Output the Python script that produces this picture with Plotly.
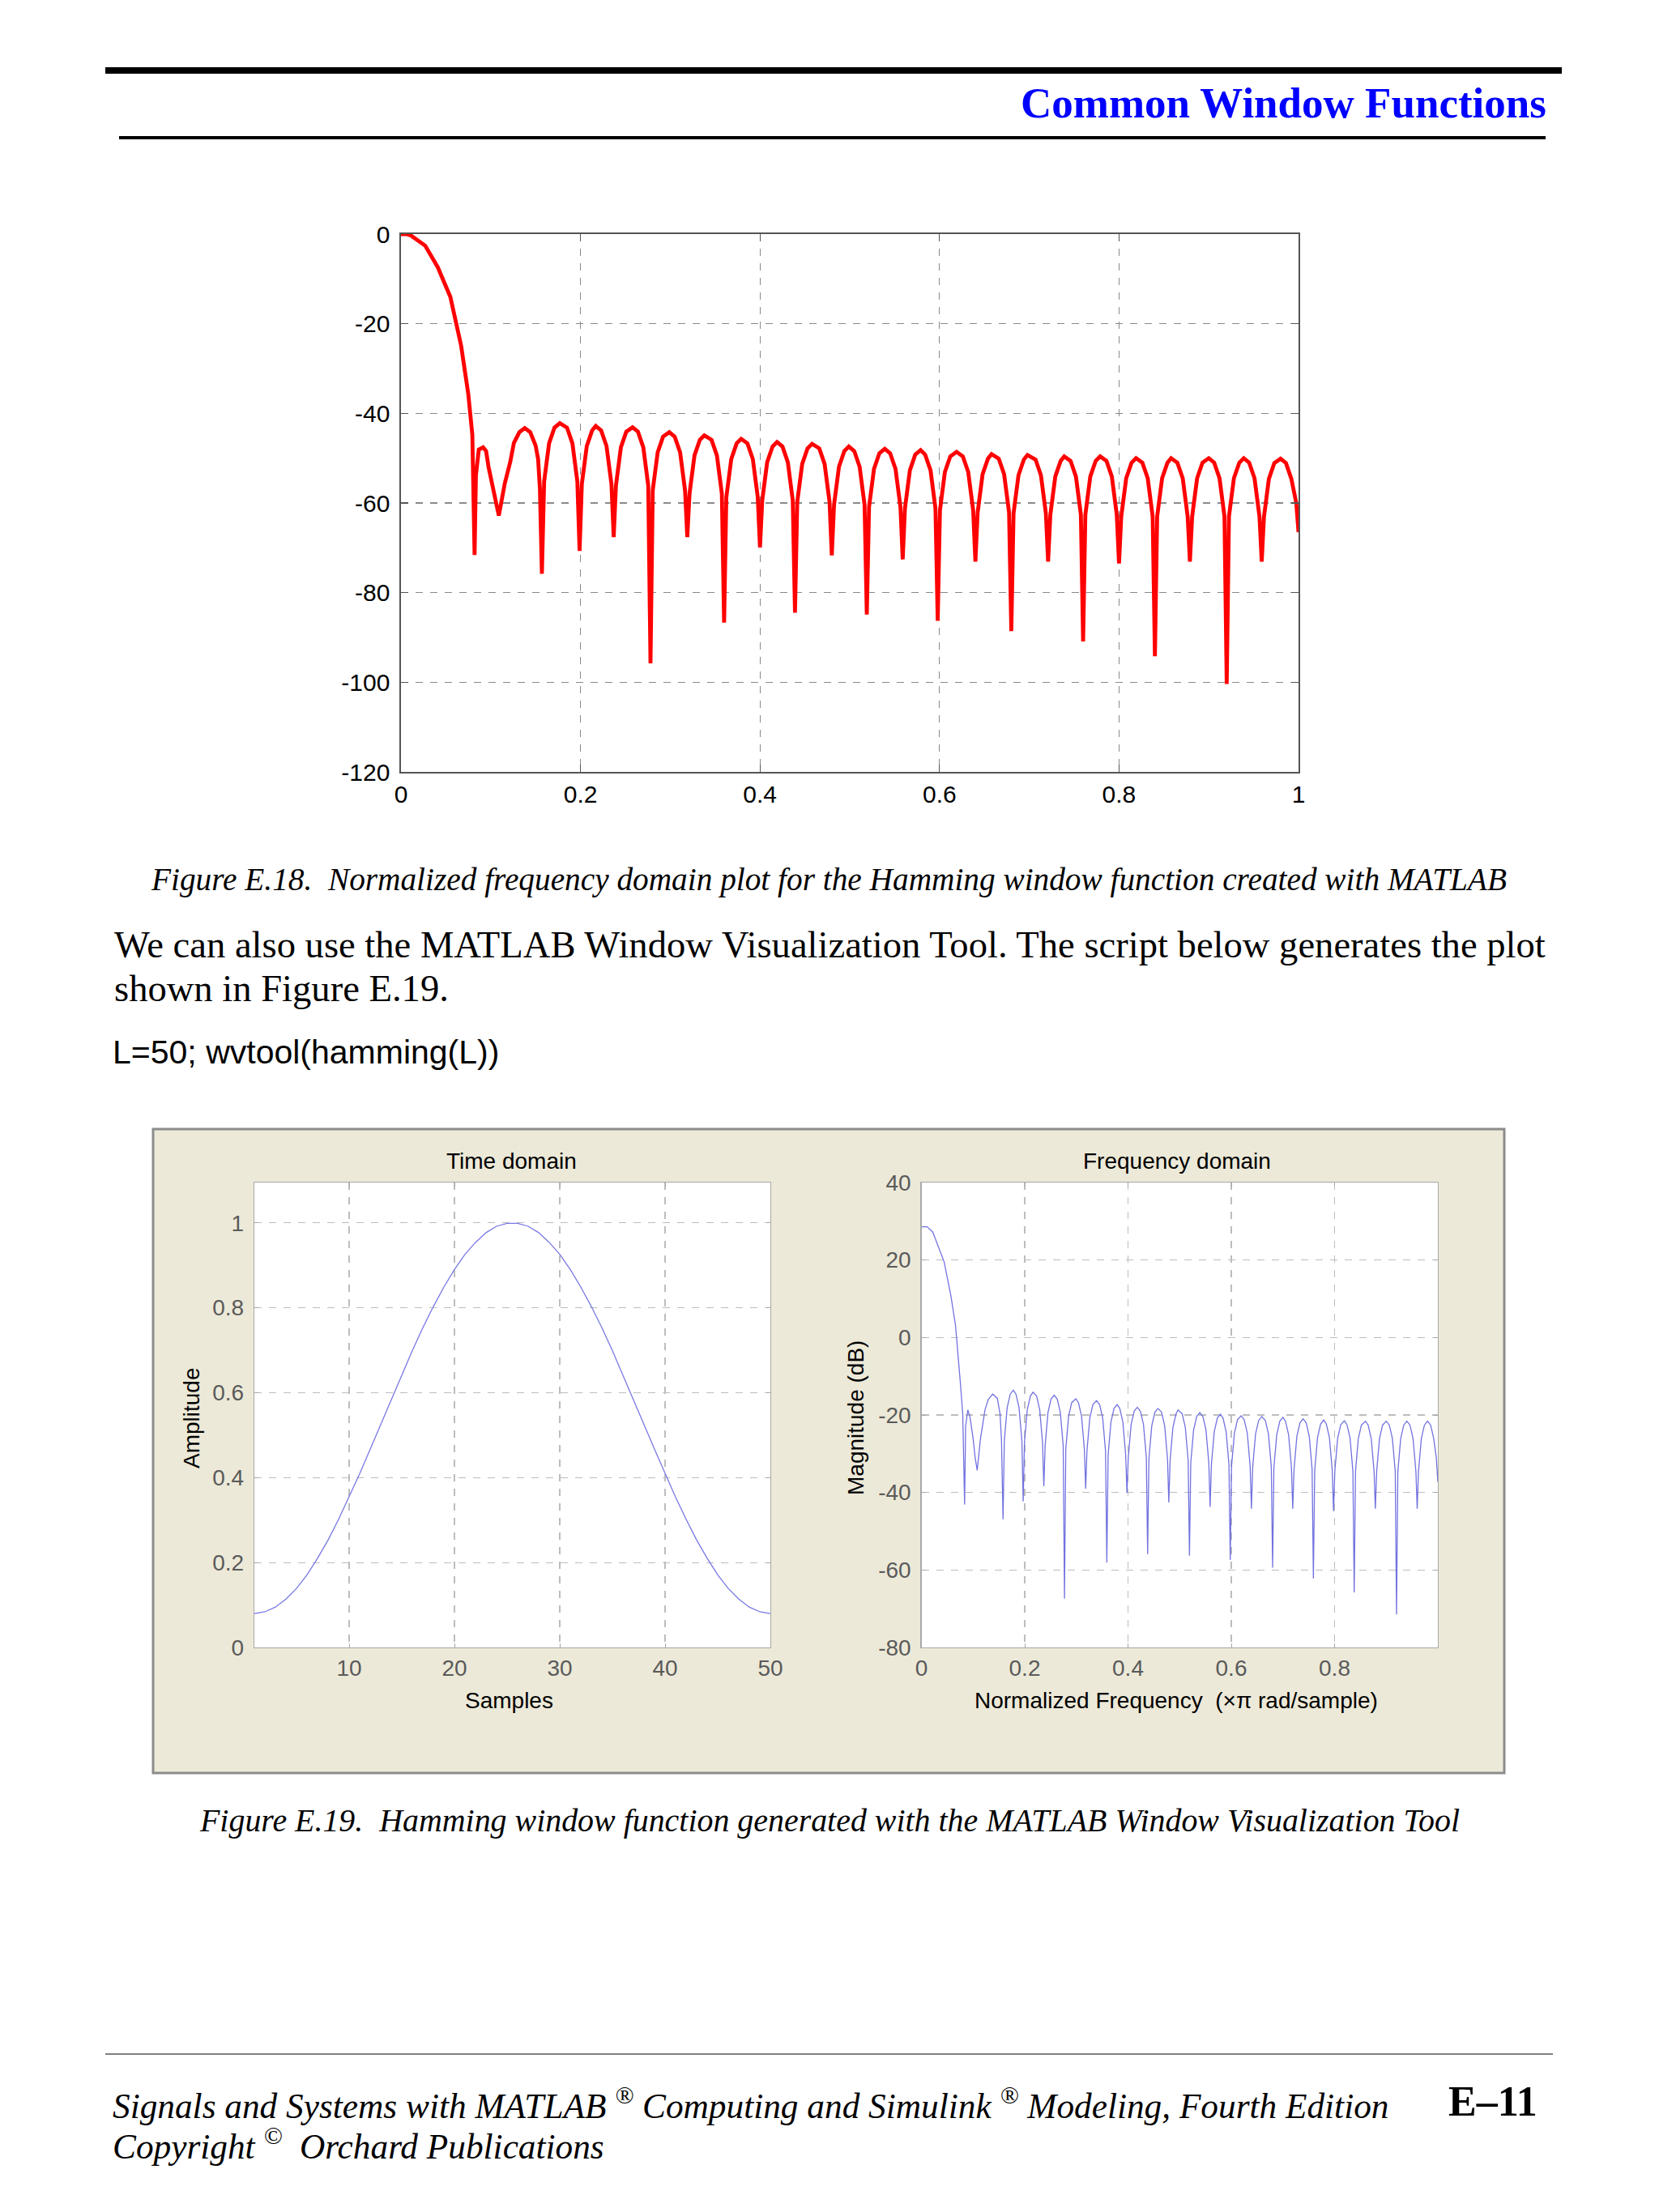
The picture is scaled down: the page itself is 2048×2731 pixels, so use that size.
import plotly.graph_objects as go

# ---------------- data ----------------
# Figure E.18 : normalized frequency response (dB), red curve
top_freq = [
    0.000, 0.006, 0.011, 0.027, 0.041, 0.055, 0.067, 0.075, 0.0795, 0.082,
    0.0835, 0.0867, 0.0915, 0.0948, 0.0976, 0.1036, 0.109,
    0.1157, 0.1218, 0.1258, 0.1319, 0.1379, 0.144, 0.150, 0.1528, 0.1548, 0.157,
    0.1595, 0.165, 0.171, 0.177, 0.185, 0.191, 0.1965, 0.199,
    0.2015, 0.207, 0.213, 0.217, 0.223, 0.229, 0.2345, 0.237,
    0.2395, 0.245, 0.251, 0.258, 0.264, 0.270, 0.2755, 0.278,
    0.2805, 0.286, 0.292, 0.299, 0.305, 0.311, 0.3165, 0.319,
    0.3215, 0.327, 0.333, 0.338, 0.346, 0.352, 0.3575, 0.360,
    0.3625, 0.368, 0.374, 0.379, 0.386, 0.392, 0.3975, 0.400,
    0.4025, 0.408, 0.414, 0.419, 0.425, 0.431, 0.4365, 0.439,
    0.4415, 0.447, 0.453, 0.458, 0.466, 0.472, 0.4775, 0.480,
    0.4825, 0.488, 0.494, 0.499, 0.505, 0.511, 0.5165, 0.519,
    0.5215, 0.527, 0.533, 0.539, 0.545, 0.551, 0.5565, 0.559,
    0.5615, 0.567, 0.573, 0.579, 0.584, 0.590, 0.5955, 0.598,
    0.6005, 0.606, 0.612, 0.619, 0.626, 0.632, 0.6375, 0.640,
    0.6425, 0.648, 0.654, 0.658, 0.666, 0.672, 0.6775, 0.680,
    0.6825, 0.688, 0.694, 0.698, 0.707, 0.713, 0.7185, 0.721,
    0.7235, 0.729, 0.735, 0.739, 0.746, 0.752, 0.7575, 0.760,
    0.7625, 0.768, 0.774, 0.779, 0.786, 0.792, 0.7975, 0.800,
    0.8025, 0.808, 0.814, 0.819, 0.826, 0.832, 0.8375, 0.840,
    0.8425, 0.848, 0.854, 0.858, 0.865, 0.871, 0.8765, 0.879,
    0.8815, 0.887, 0.893, 0.900, 0.906, 0.912, 0.9175, 0.920,
    0.9225, 0.928, 0.934, 0.939, 0.945, 0.951, 0.9565, 0.959,
    0.9615, 0.967, 0.973, 0.980, 0.986, 0.992, 0.9975, 1.000,
]
top_mag = [
    0.0, 0.0, -0.3, -2.6, -7.4, -14.0, -24.9, -35.7, -44.8, -71.6,
    -53.8, -48.1, -47.6, -48.4, -52.0, -58.0, -62.8,
    -55.6, -50.8, -46.6, -44.2, -43.3, -44.2, -47.2, -50.2, -56.8, -75.8,
    -55.2, -46.7, -43.2, -42.2, -43.2, -46.7, -55.2, -70.7,
    -55.8, -47.3, -43.8, -42.8, -43.8, -47.3, -55.8, -67.6,
    -56.1, -47.6, -44.1, -43.1, -44.1, -47.6, -56.1, -95.8,
    -57.2, -48.7, -45.2, -44.2, -45.2, -48.7, -57.2, -67.6,
    -57.9, -49.4, -45.9, -44.9, -45.9, -49.4, -57.9, -86.7,
    -58.7, -50.2, -46.7, -45.7, -46.7, -50.2, -58.7, -69.9,
    -59.4, -50.9, -47.4, -46.4, -47.4, -50.9, -59.4, -84.5,
    -59.8, -51.3, -47.8, -46.8, -47.8, -51.3, -59.8, -71.7,
    -60.4, -51.9, -48.4, -47.4, -48.4, -51.9, -60.4, -84.9,
    -60.9, -52.4, -48.9, -47.9, -48.9, -52.4, -60.9, -72.6,
    -61.2, -52.7, -49.2, -48.2, -49.2, -52.7, -61.2, -86.3,
    -61.6, -53.1, -49.6, -48.6, -49.6, -53.1, -61.6, -73.1,
    -62.1, -53.6, -50.1, -49.1, -50.1, -53.6, -62.1, -88.6,
    -62.3, -53.8, -50.3, -49.3, -50.3, -53.8, -62.3, -73.1,
    -62.6, -54.1, -50.6, -49.6, -50.6, -54.1, -62.6, -90.9,
    -62.6, -54.1, -50.6, -49.6, -50.6, -54.1, -62.6, -73.5,
    -63.0, -54.5, -51.0, -50.0, -51.0, -54.5, -63.0, -94.2,
    -63.0, -54.5, -51.0, -50.0, -51.0, -54.5, -63.0, -73.1,
    -63.0, -54.5, -51.0, -50.0, -51.0, -54.5, -63.0, -100.4,
    -63.0, -54.5, -51.0, -50.0, -51.0, -54.5, -63.0, -73.1,
    -63.1, -54.6, -51.1, -50.1, -51.1, -54.6, -60.0, -66.5,
]
top_xticks = [0, 0.2, 0.4, 0.6, 0.8, 1]
top_xticklabels = ["0", "0.2", "0.4", "0.6", "0.8", "1"]
top_yticks = [0, -20, -40, -60, -80, -100, -120]
top_yticklabels = ["0", "-20", "-40", "-60", "-80", "-100", "-120"]

# Figure E.19 left : Hamming window, time domain
time_samples = [1, 2, 3, 4, 5, 6, 7, 8, 9, 10, 11, 12, 13, 14, 15, 16, 17, 18, 19, 20,
                21, 22, 23, 24, 25, 26, 27, 28, 29, 30, 31, 32, 33, 34, 35, 36, 37, 38, 39, 40,
                41, 42, 43, 44, 45, 46, 47, 48, 49, 50]
time_amp = [0.080, 0.084, 0.095, 0.114, 0.139, 0.171, 0.210, 0.253, 0.302, 0.354,
            0.409, 0.467, 0.525, 0.584, 0.642, 0.699, 0.753, 0.803, 0.849, 0.890,
            0.926, 0.954, 0.977, 0.992, 0.999, 0.999, 0.992, 0.977, 0.954, 0.926,
            0.890, 0.849, 0.803, 0.753, 0.699, 0.642, 0.584, 0.525, 0.467, 0.409,
            0.354, 0.302, 0.253, 0.210, 0.171, 0.139, 0.114, 0.095, 0.084, 0.080]
time_xticks = [10, 20, 30, 40, 50]
time_yticks = [0, 0.2, 0.4, 0.6, 0.8, 1]
time_yticklabels = ["0", "0.2", "0.4", "0.6", "0.8", "1"]

# Figure E.19 right : frequency domain (dB)
wv_freq = [
    0.000, 0.011, 0.022, 0.035, 0.044, 0.057, 0.066, 0.075, 0.080, 0.0836,
    0.0855, 0.0898, 0.094, 0.100, 0.104, 0.108,
    0.114, 0.123, 0.1294, 0.138, 0.147, 0.1523, 0.155, 0.158,
    0.1605, 0.166, 0.172, 0.178, 0.183, 0.189, 0.1945, 0.197,
    0.1995, 0.205, 0.211, 0.216, 0.223, 0.229, 0.2345, 0.237,
    0.2395, 0.245, 0.251, 0.257, 0.263, 0.269, 0.2745, 0.277,
    0.2795, 0.285, 0.291, 0.299, 0.304, 0.310, 0.3155, 0.318,
    0.3205, 0.326, 0.332, 0.339, 0.345, 0.351, 0.3565, 0.359,
    0.3615, 0.367, 0.373, 0.379, 0.384, 0.390, 0.3955, 0.398,
    0.4005, 0.406, 0.412, 0.418, 0.424, 0.430, 0.4355, 0.438,
    0.4405, 0.446, 0.452, 0.458, 0.465, 0.471, 0.4765, 0.479,
    0.4815, 0.487, 0.493, 0.497, 0.505, 0.511, 0.5165, 0.519,
    0.5215, 0.527, 0.533, 0.539, 0.545, 0.551, 0.5565, 0.559,
    0.5615, 0.567, 0.573, 0.579, 0.584, 0.590, 0.5955, 0.598,
    0.6005, 0.606, 0.612, 0.619, 0.625, 0.631, 0.6365, 0.639,
    0.6415, 0.647, 0.653, 0.659, 0.666, 0.672, 0.6775, 0.680,
    0.6825, 0.688, 0.694, 0.700, 0.705, 0.711, 0.7165, 0.719,
    0.7215, 0.727, 0.733, 0.739, 0.745, 0.751, 0.7565, 0.759,
    0.7615, 0.767, 0.773, 0.779, 0.784, 0.790, 0.7955, 0.798,
    0.8005, 0.806, 0.812, 0.819, 0.824, 0.830, 0.8355, 0.838,
    0.8405, 0.846, 0.852, 0.860, 0.865, 0.871, 0.8765, 0.879,
    0.8815, 0.887, 0.893, 0.900, 0.906, 0.912, 0.9175, 0.920,
    0.9225, 0.928, 0.934, 0.940, 0.946, 0.952, 0.9575, 0.960,
    0.9625, 0.968, 0.974, 0.980, 0.986, 0.992, 0.997, 1.000,
]
wv_mag = [
    28.6, 28.6, 27.2, 22.8, 19.5, 10.8, 3.1, -11.1, -19.8, -43.1,
    -23.0, -18.7, -20.5, -26.0, -31.0, -34.3,
    -26.4, -18.7, -16.0, -14.6, -15.7, -19.8, -26.4, -46.9,
    -26.6, -18.1, -14.6, -13.6, -14.6, -18.1, -26.6, -42.3,
    -27.1, -18.6, -15.1, -14.1, -15.1, -18.6, -27.1, -38.4,
    -27.9, -19.4, -15.9, -14.9, -15.9, -19.4, -27.9, -67.4,
    -28.8, -20.3, -16.8, -15.8, -16.8, -20.3, -28.8, -39.0,
    -29.3, -20.8, -17.3, -16.3, -17.3, -20.8, -29.3, -58.1,
    -30.3, -21.8, -18.3, -17.3, -18.3, -21.8, -30.3, -40.1,
    -31.0, -22.5, -19.0, -18.0, -19.0, -22.5, -31.0, -55.9,
    -31.3, -22.8, -19.3, -18.3, -19.3, -22.8, -31.3, -42.6,
    -31.7, -23.2, -19.7, -18.7, -19.7, -23.2, -31.7, -56.3,
    -32.4, -23.9, -20.4, -19.4, -20.4, -23.9, -32.4, -43.7,
    -32.8, -24.3, -20.8, -19.8, -20.8, -24.3, -32.8, -57.4,
    -33.2, -24.7, -21.2, -20.2, -21.2, -24.7, -33.2, -44.2,
    -33.4, -24.9, -21.4, -20.4, -21.4, -24.9, -33.4, -59.4,
    -33.6, -25.1, -21.6, -20.6, -21.6, -25.1, -33.6, -44.2,
    -34.0, -25.5, -22.0, -21.0, -22.0, -25.5, -34.0, -62.2,
    -34.3, -25.8, -22.3, -21.3, -22.3, -25.8, -34.3, -44.8,
    -34.5, -26.0, -22.5, -21.5, -22.5, -26.0, -34.5, -65.8,
    -34.6, -26.1, -22.6, -21.6, -22.6, -26.1, -34.6, -44.2,
    -34.6, -26.1, -22.6, -21.6, -22.6, -26.1, -34.6, -71.5,
    -34.6, -26.1, -22.6, -21.6, -22.6, -26.1, -34.6, -44.2,
    -34.6, -26.1, -22.6, -21.6, -22.6, -26.1, -31.0, -37.3,
]
wv_xticks = [0, 0.2, 0.4, 0.6, 0.8]
wv_xticklabels = ["0", "0.2", "0.4", "0.6", "0.8"]
wv_yticks = [-80, -60, -40, -20, 0, 20, 40]
wv_yticklabels = ["-80", "-60", "-40", "-20", "0", "20", "40"]

assert len(top_freq) == len(top_mag)
assert len(wv_freq) == len(wv_mag)
assert len(time_samples) == len(time_amp)

# ---------------- page geometry ----------------
W, H = 2048, 2731
def fx(x):
    return x / W
def fy(y):
    return 1 - y / H

SERIF = "Liberation Serif, Times New Roman, serif"
SANS = "Liberation Sans, Arial, Helvetica, sans-serif"

fig = go.Figure()
fig.add_trace(go.Scatter(x=top_freq, y=top_mag, mode="lines",
                         line=dict(color="#ff0000", width=4.8),
                         xaxis="x", yaxis="y", showlegend=False, hoverinfo="skip"))
fig.add_trace(go.Scatter(x=time_samples, y=time_amp, mode="lines",
                         line=dict(color="#7878e4", width=1.3),
                         xaxis="x2", yaxis="y2", showlegend=False, hoverinfo="skip"))
fig.add_trace(go.Scatter(x=wv_freq, y=wv_mag, mode="lines",
                         line=dict(color="#7272e0", width=1.3),
                         xaxis="x3", yaxis="y3", showlegend=False, hoverinfo="skip"))

top_ax = dict(showgrid=True, griddash="dash", gridcolor="#8a8a8a", gridwidth=1.3,
              showline=True, mirror="ticks", linecolor="#555555", linewidth=1.6,
              ticks="inside", ticklen=9, tickcolor="#555555", tickwidth=1.3,
              zeroline=False, automargin=False,
              tickfont=dict(family=SANS, size=30, color="#000000"))
wv_ax = dict(showgrid=True, griddash="dash", gridcolor="#bdbdbd", gridwidth=1.2,
             showline=True, mirror="ticks", linecolor="#a8a8a8", linewidth=1.3,
             ticks="inside", ticklen=5, tickcolor="#a8a8a8",
             zeroline=False, automargin=False,
             tickfont=dict(family=SANS, size=28, color="#5a5a5a"))

fig.update_layout(
    width=W, height=H, autosize=False,
    margin=dict(l=0, r=0, t=0, b=0, pad=0, autoexpand=False),
    paper_bgcolor="white", plot_bgcolor="rgba(0,0,0,0)",
    showlegend=False,
    xaxis=dict(domain=[fx(495), fx(1603)], range=[0, 1], anchor="y",
               tickmode="array", tickvals=top_xticks, ticktext=top_xticklabels,
               ticklabelstandoff=0, **top_ax),
    yaxis=dict(domain=[fy(953), fy(289)], range=[-120, 0], anchor="x",
               tickmode="array", tickvals=top_yticks, ticktext=top_yticklabels,
               ticklabelstandoff=6, **top_ax),
    xaxis2=dict(domain=[fx(314), fx(951)], range=[1, 50], anchor="y2",
                tickmode="array", tickvals=time_xticks,
                ticklabelstandoff=0, **wv_ax),
    yaxis2=dict(domain=[fy(2034), fy(1460)], range=[0, 1.095], anchor="x2",
                tickmode="array", tickvals=time_yticks, ticktext=time_yticklabels,
                ticklabelstandoff=6, **wv_ax),
    xaxis3=dict(domain=[fx(1137.5), fx(1775)], range=[0, 1], anchor="y3",
                tickmode="array", tickvals=wv_xticks, ticktext=wv_xticklabels,
                ticklabelstandoff=0, **wv_ax),
    yaxis3=dict(domain=[fy(2034), fy(1460)], range=[-80, 40], anchor="x3",
                tickmode="array", tickvals=wv_yticks, ticktext=wv_yticklabels,
                ticklabelstandoff=6, **wv_ax),
)

shapes = []
# header rules
shapes.append(dict(type="line", xref="paper", yref="paper",
                   x0=fx(130), x1=fx(1928), y0=fy(87), y1=fy(87),
                   line=dict(color="#000000", width=8)))
shapes.append(dict(type="line", xref="paper", yref="paper",
                   x0=fx(147), x1=fx(1908), y0=fy(170), y1=fy(170),
                   line=dict(color="#000000", width=4)))
# footer rule
shapes.append(dict(type="line", xref="paper", yref="paper",
                   x0=fx(130), x1=fx(1917), y0=fy(2536), y1=fy(2536),
                   line=dict(color="#808080", width=2)))
# wvtool window panel
shapes.append(dict(type="rect", xref="paper", yref="paper", layer="below",
                   x0=fx(189), x1=fx(1857), y0=fy(2189), y1=fy(1394),
                   fillcolor="#ECE9D8", line=dict(color="#8c8c8c", width=3)))
for x0, x1 in [(314, 951), (1137.5, 1775)]:
    shapes.append(dict(type="rect", xref="paper", yref="paper", layer="below",
                       x0=fx(x0), x1=fx(x1), y0=fy(2034), y1=fy(1460),
                       fillcolor="#ffffff", line=dict(width=0)))
fig.update_layout(shapes=shapes)

ann = []
def text(t, x, y, size, family, color="#000000", xanchor="center", angle=0):
    ann.append(dict(text=t, x=fx(x), y=fy(y), xref="paper", yref="paper",
                    xanchor=xanchor, yanchor="middle", showarrow=False,
                    textangle=angle,
                    font=dict(family=family, size=size, color=color)))

text("<b>Common Window Functions</b>", 1911, 127, 53, SERIF, color="#0000ff", xanchor="right")
text("<i>Figure E.18.  Normalized frequency domain plot for the Hamming window function created with MATLAB</i>",
     1023, 1086, 39.3, SERIF)
text("We can also use the MATLAB Window Visualization Tool. The script below generates the plot",
     139, 1166, 46.6, SERIF, xanchor="left")
text("shown in Figure E.19.", 139, 1220, 46.6, SERIF, xanchor="left")
text("L=50; wvtool(hamming(L))", 137, 1299, 41, SANS, xanchor="left")

text("Time domain", 631, 1433, 28, SANS)
text("Frequency domain", 1453, 1433, 28, SANS)
text("Samples", 628, 2099, 28, SANS)
text("Normalized Frequency  (\u00d7\u03c0 rad/sample)", 1452, 2099, 28, SANS)
text("Amplitude", 236, 1751, 28, SANS, angle=-90)
text("Magnitude (dB)", 1056, 1751, 28, SANS, angle=-90)

text("<i>Figure E.19.  Hamming window function generated with the MATLAB Window Visualization Tool</i>",
     1024, 2247, 39.9, SERIF)

text("<i>Signals and Systems with MATLAB <sup>\u00ae</sup> Computing and Simulink <sup>\u00ae</sup> Modeling, Fourth Edition</i>",
     137, 2597, 43.3, SERIF, xanchor="left")
text("<i>Copyright <sup>\u00a9</sup>  Orchard Publications</i>", 137, 2647, 43.3, SERIF, xanchor="left")
text("<b>E\u201311</b>", 1900, 2594, 52, SERIF, xanchor="right")

fig.update_layout(annotations=ann)
fig.write_html("out.html",
               config={"displayModeBar": False, "staticPlot": True},
               post_script="document.body.style.margin='0';document.body.style.padding='0';")
